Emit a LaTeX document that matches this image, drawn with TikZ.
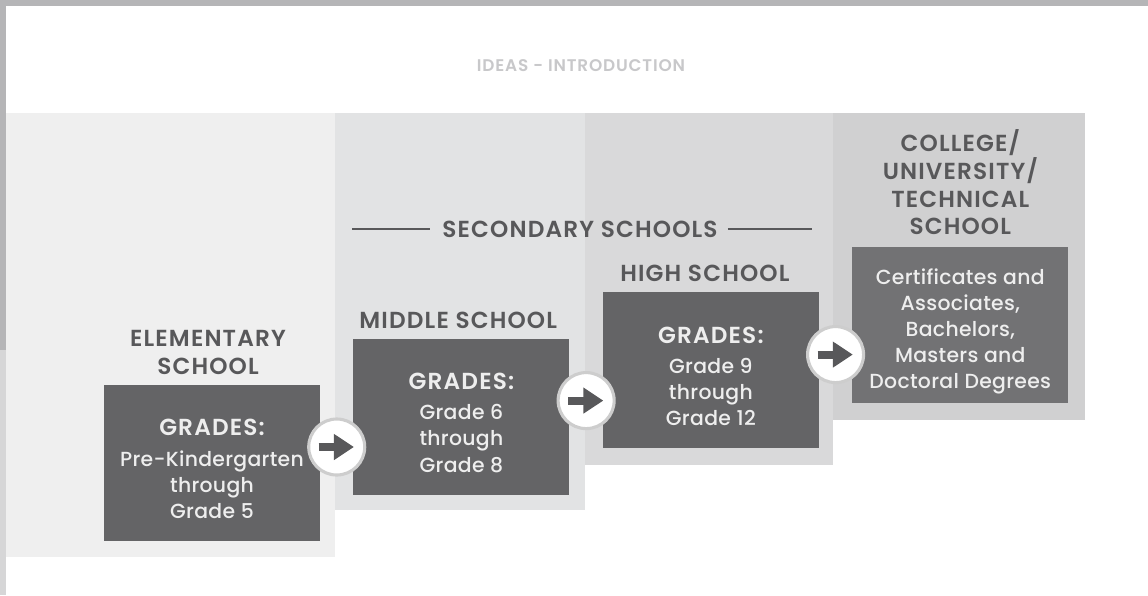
\documentclass[tikz,border=0pt]{standalone}
\usepackage{fontspec}
\setmainfont{Poppins}
\newfontfamily\headfont{Poppins SemiBold}[LetterSpace=5]
\newfontfamily\bodyfont{Poppins Medium}[LetterSpace=1.5]
\usetikzlibrary{positioning}
\usetikzlibrary{calc}
\usetikzlibrary{arrows.meta}

\definecolor{pageedge}{HTML}{B5B5B7}
\definecolor{colone}{HTML}{EFEFEF}
\definecolor{coltwo}{HTML}{E2E3E4}
\definecolor{colthree}{HTML}{D9D9DA}
\definecolor{colfour}{HTML}{D0D0D1}
\definecolor{gradebox}{HTML}{646466}
\definecolor{collegebox}{HTML}{727274}
\definecolor{gradetext}{HTML}{EEEEEE}
\definecolor{levelgray}{HTML}{58585A}
\definecolor{titlegray}{HTML}{C8C8CA}
\definecolor{ringgray}{HTML}{CDCDCD}
\definecolor{arrowgray}{HTML}{58585A}

% first line of every box gets a strut, so the text sits a little low
\newcommand{\gradeslabel}{{\headfont\fontsize{16.5}{20}\selectfont\rule{0pt}{20pt}GRADES:}\\[3pt]}
\newcommand{\firstline}{\rule{0pt}{21pt}}

\begin{document}
\begin{tikzpicture}[x=0.025cm, y=-0.025cm,
    grades/.style={fill=gradebox, text=gradetext, minimum width=5.4cm, minimum height=3.9cm,
      align=center, inner sep=0pt, font=\bodyfont\fontsize{14.5}{18.5}\selectfont},
    level/.style={text=levelgray, align=center, inner sep=0pt, font=\headfont\fontsize{16.5}{19.8}\selectfont},
    pass/.style={circle, fill=white, draw=ringgray, line width=2.2pt, minimum size=1.4cm, inner sep=0pt},
    passarrow/.style={draw=arrowgray, line width=0.2cm, -{Triangle[length=0.5cm,width=0.62cm]}},
    rule/.style={draw=levelgray, line width=1.4pt}]
  \useasboundingbox (0,0) rectangle (1148,595);
  \fill[white] (0,0) rectangle (1148,595);
  % page edge
  \fill[pageedge] (0,0) rectangle (1148,6);
  \fill[pageedge] (0,6) rectangle (6,350);
  \fill[pageedge!55] (0,350) rectangle (6,595);

  % steps behind the boxes
  \fill[colone] (6,113) rectangle (335,557);
  \fill[coltwo] (335,113) rectangle (585,510);
  \fill[colthree] (585,113) rectangle (833,465);
  \fill[colfour] (833,113) rectangle (1085,420);

  \node[font=\headfont\fontsize{12}{12}\selectfont, text=titlegray] (title) at (581,66) {IDEAS - INTRODUCTION};

  % grade boxes
  \node[grades] (elem) at (212,463) {\gradeslabel Pre-Kindergarten\\through\\Grade 5};
  \node[grades, right=0.82cm of elem, yshift=1.15cm] (middle) {\gradeslabel Grade 6\\through\\Grade 8};
  \node[grades, right=0.82cm of middle, yshift=1.17cm] (high) {\gradeslabel Grade 9\\through\\Grade 12};
  \node[grades, fill=collegebox, right=0.82cm of high, yshift=1.13cm] (college)
    {\firstline Certificates and\\Associates,\\Bachelors,\\Masters and\\Doctoral Degrees};

  % level names
  \node[level, above=7pt of elem, xshift=-0.1cm] (elemname) {ELEMENTARY\\SCHOOL};
  \node[level, above=7pt of middle, xshift=-0.08cm] (middlename) {MIDDLE SCHOOL};
  \node[level, above=7pt of high, xshift=-0.15cm] (highname) {HIGH SCHOOL};
  \node[level, above=8pt of college] (collegename) {COLLEGE/\\UNIVERSITY/\\TECHNICAL\\SCHOOL};

  \node[level] (secondary) at (580,229) {SECONDARY SCHOOLS};
  \coordinate (secfrom) at (352,229);
  \coordinate (secto) at (812,229);
  \draw[rule] (secfrom) -- ([xshift=-0.3cm]secondary.west);
  \draw[rule] ([xshift=0.25cm]secondary.east) -- (secto);

  % arrows between the boxes
  \node[pass] (pass1) at ($(elem.east)!0.5!(middle.west)+(0,7)$) {};
  \node[pass] (pass2) at ($(middle.east)!0.5!(high.west)+(0,7)$) {};
  \node[pass] (pass3) at ($(high.east)!0.5!(college.west)+(0,7)$) {};
  \draw[passarrow] ([xshift=-0.45cm]pass1.center) -- ([xshift=0.43cm]pass1.center);
  \draw[passarrow] ([xshift=-0.45cm]pass2.center) -- ([xshift=0.43cm]pass2.center);
  \draw[passarrow] ([xshift=-0.45cm]pass3.center) -- ([xshift=0.43cm]pass3.center);
\end{tikzpicture}
\end{document}
